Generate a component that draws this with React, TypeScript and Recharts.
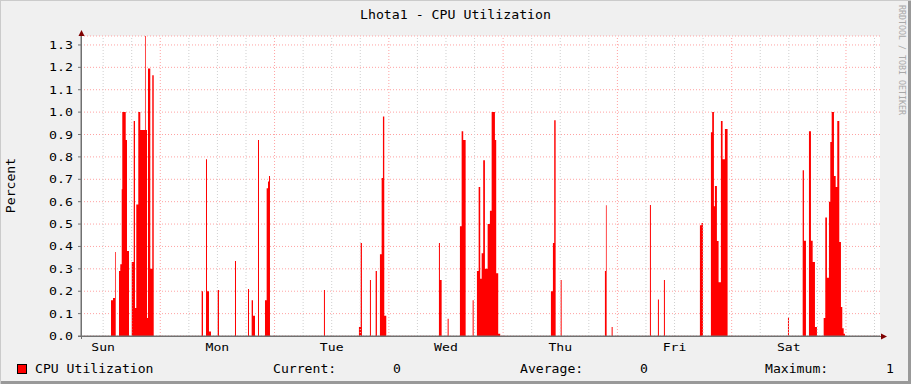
import {
  ComposedChart, Area, XAxis, YAxis, CartesianGrid, ReferenceLine,
} from 'recharts'

/* ---------- data ---------- */

// x axis is hours since Sunday 00:00
const X_START = 7.35
const X_END = 175.15

const dayNames = ['Sun', 'Mon', 'Tue', 'Wed', 'Thu', 'Fri', 'Sat']
const dayLabelHours = [12, 36, 60, 84, 108, 132, 156]
const midnightHours = [24, 48, 72, 96, 120, 144, 168]
const sixHourLines = [12, 18, 30, 36, 42, 54, 60, 66, 78, 84, 90, 102, 108, 114, 126, 132, 138, 150, 156, 162, 174]
const yTicks = [0, 0.1, 0.2, 0.3, 0.4, 0.5, 0.6, 0.7, 0.8, 0.9, 1.0, 1.1, 1.2, 1.3]

// [hour of day, value] — value holds until the next entry
const sunRuns: [number, number][] = [
  [13.65, 0.16], [14.07, 0.17], [14.49, 0.375], [14.64, 0],
  [15.33, 0.29], [15.6, 0.32], [15.9, 0.655], [16.02, 1.0], [16.74, 0.875], [17.01, 0.38], [17.43, 0],
  [18.0, 0.33], [18.42, 0.96], [18.69, 0.125], [18.96, 0.587], [19.38, 1.0], [19.8, 0.92],
  [20.79, 1.34], [20.94, 0.92], [21.21, 0.08], [21.42, 1.195], [21.9, 0.3], [22.32, 1.165], [22.62, 0],
]
const monRuns: [number, number][] = [
  [8.69, 0.2], [8.97, 0], [9.6, 0.79], [9.81, 0.2], [10.23, 0.02], [10.65, 0],
  [12.05, 0.205], [12.33, 0], [15.69, 0.335], [15.9, 0], [18.42, 0.21], [18.63, 0],
  [19.19, 0.16], [19.47, 0.09], [19.89, 0], [20.52, 0.875], [20.73, 0],
  [21.99, 0.16], [22.34, 0.66], [22.62, 0.69], [22.83, 0.715], [23.04, 0],
]
const tueRuns: [number, number][] = [
  [10.37, 0.205], [10.58, 0], [17.72, 0.04], [18.08, 0.415], [18.35, 0],
  [20.03, 0.25], [20.24, 0], [21.23, 0.29], [21.5, 0],
  [22.13, 0.365], [22.49, 0.706], [22.76, 0.98], [23.04, 0.09], [23.46, 0],
]
const wedRuns: [number, number][] = [
  [10.52, 0.415], [10.73, 0.25], [11.09, 0], [12.35, 0.077], [12.56, 0],
  [14.93, 0.49], [15.29, 0.915], [15.62, 0.875], [16.13, 0], [17.6, 0.16], [17.81, 0],
  [18.5, 0.29], [18.86, 0.666], [19.19, 0.256], [19.49, 0.37], [19.82, 0.785], [20.18, 0.3],
  [20.75, 0.5], [21.23, 0.56], [21.59, 1.0], [22.28, 0.875], [22.55, 0.28], [22.97, 0.01], [23.39, 0],
]
const thuRuns: [number, number][] = [
  [10.04, 0.2], [10.46, 0.415], [10.73, 0.964], [11.03, 0], [12.08, 0.25], [12.29, 0],
  [21.38, 0.29], [21.59, 0.584], [21.74, 0], [22.79, 0.04], [23.0, 0],
]
const friRuns: [number, number][] = [
  [6.83, 0.585], [7.04, 0], [8.51, 0.163], [8.72, 0], [9.77, 0.25], [9.98, 0],
  [17.33, 0.495], [17.68, 0.505], [17.96, 0],
  [19.64, 0.91], [19.91, 1.0], [20.27, 0.58], [20.48, 0.67], [20.9, 0.424], [21.25, 0.24],
  [21.74, 0.96], [22.09, 0.79], [22.58, 0.925], [23.14, 0],
]
const satRuns: [number, number][] = [
  [11.82, 0.084], [12.03, 0], [14.91, 0.74], [15.18, 0.425], [15.6, 0],
  [16.23, 0.915], [16.65, 0.425], [17.01, 0.33], [17.49, 0.04], [17.91, 0],
  [19.32, 0.08], [19.66, 0.529], [20.01, 0.26], [20.43, 0.6], [20.71, 0.866], [21.0, 1.0],
  [21.48, 0.715], [21.84, 0.665], [22.18, 0.96], [22.6, 0.42], [22.95, 0.129], [23.23, 0.035],
  [23.52, 0.01], [23.79, 0],
]

const weekRuns = [sunRuns, monRuns, tueRuns, wedRuns, thuRuns, friRuns, satRuns]

const cpuData = [
  { t: X_START, v: 0 },
  ...weekRuns.flatMap((runs, d) => runs.map(([h, v]) => ({ t: d * 24 + h, v }))),
  { t: X_END, v: 0 },
]

/* ---------- style ---------- */

const MONO = '"DejaVu Sans Mono", monospace'
const RED_GRID = '#ffa2a2'
const GREY_GRID = '#cfcfcf'
const AXIS = '#707070'
const ARROW = '#7f0000'

/* ---------- ticks ---------- */

// eslint-disable-next-line @typescript-eslint/no-explicit-any
const YTick = (props: any) => {
  const { x, y, payload } = props
  const s = Number(payload.value).toFixed(1)
  return (
    <text x={x} y={y} dy={4} textAnchor="end" fontFamily={MONO} fontSize={10.6}
      textLength={s.length * 8} lengthAdjust="spacingAndGlyphs" fill="#000">
      {s}
    </text>
  )
}

// eslint-disable-next-line @typescript-eslint/no-explicit-any
const XTick = (props: any) => {
  const { x, y, payload } = props
  const s = dayNames[dayLabelHours.indexOf(payload.value)] ?? ''
  return (
    <text x={x} y={y + 15} textAnchor="middle" fontFamily={MONO} fontSize={11}
      textLength={s.length * 7.9} lengthAdjust="spacingAndGlyphs" fill="#000">
      {s}
    </text>
  )
}

function Txt({ x, y, s, size = 12, pitch = 7.9, anchor = 'start' }: {
  x: number; y: number; s: string; size?: number; pitch?: number; anchor?: string
}) {
  return (
    <text x={x} y={y} textAnchor={anchor} fontFamily={MONO} fontSize={size}
      textLength={s.length * pitch} lengthAdjust="spacingAndGlyphs" fill="#000">
      {s}
    </text>
  )
}

/* ---------- component ---------- */

export default function App() {
  return (
    <div style={{ position: 'absolute', left: 0, top: 0, width: 911, height: 384, background: '#f0f0f0' }}>
      <ComposedChart width={911} height={384} data={cpuData}
        margin={{ top: 36, right: 31, bottom: 0, left: 0 }}>
        <CartesianGrid vertical={false} stroke={RED_GRID} strokeDasharray="1 2" fill="#ffffff" />

        {sixHourLines.map((h) => (
          <ReferenceLine key={`g${h}`} x={h} stroke={GREY_GRID} strokeDasharray="1 2" ifOverflow="hidden" />
        ))}
        {midnightHours.map((h) => (
          <ReferenceLine key={`m${h}`} x={h} stroke={RED_GRID} strokeDasharray="1 2" ifOverflow="hidden" />
        ))}

        <XAxis
          type="number"
          dataKey="t"
          domain={[X_START, X_END]}
          allowDataOverflow
          ticks={dayLabelHours}
          tick={<XTick />}
          tickLine={false}
          tickSize={0}
          tickMargin={0}
          height={48}
          axisLine={{ stroke: AXIS }}
          interval={0}
        />
        <YAxis
          type="number"
          domain={[0, 1.34]}
          allowDataOverflow
          ticks={yTicks}
          tick={<YTick />}
          tickSize={3}
          tickMargin={5}
          tickLine={{ stroke: AXIS }}
          axisLine={{ stroke: AXIS }}
          width={81}
          interval={0}
        />

        <Area
          type="stepAfter"
          dataKey="v"
          stroke="none"
          fill="#ff0000"
          fillOpacity={1}
          isAnimationActive={false}
          dot={false}
          activeDot={false}
        />
      </ComposedChart>

      <svg width={911} height={384} style={{ position: 'absolute', left: 0, top: 0, pointerEvents: 'none' }}>
        {/* frame */}
        <rect x={0.5} y={0.5} width={910} height={383} fill="none" stroke="#cbcbcb" />
        <line x1={909.5} y1={1} x2={909.5} y2={384} stroke="#999" strokeWidth={3} />
        <line x1={1} y1={382.5} x2={911} y2={382.5} stroke="#999" strokeWidth={3} />

        {/* axis extensions + arrows */}
        <line x1={78} y1={336.5} x2={882} y2={336.5} stroke={AXIS} />
        <line x1={81.5} y1={339} x2={81.5} y2={34} stroke={AXIS} />
        <polygon points="78.5,36 84.5,36 81.5,30" fill={ARROW} />
        <polygon points="881,333.5 881,339.5 887,336.5" fill={ARROW} />

        <Txt x={455.5} y={19} s="Lhota1 - CPU Utilization" size={12.5} pitch={7.96} anchor="middle" />

        <g transform="translate(15,185.5) rotate(-90)">
          <Txt x={0} y={0} s="Percent" size={12} pitch={7.9} anchor="middle" />
        </g>

        <g transform="translate(899,5) rotate(90)">
          <text x={0} y={0} fontFamily={MONO} fontSize={9.5} fill="#a8a8a8"
            textLength={110} lengthAdjust="spacingAndGlyphs">
            RRDTOOL / TOBI OETIKER
          </text>
        </g>

        {/* legend */}
        <rect x={17.5} y={364.5} width={9} height={9} fill="#ff0000" stroke="#000" />
        <Txt x={35} y={373} s="CPU Utilization" />
        <Txt x={273} y={373} s="Current:" />
        <Txt x={393} y={373} s="0" />
        <Txt x={520} y={373} s="Average:" />
        <Txt x={640} y={373} s="0" />
        <Txt x={765} y={373} s="Maximum:" />
        <Txt x={886} y={373} s="1" />
      </svg>
    </div>
  )
}
